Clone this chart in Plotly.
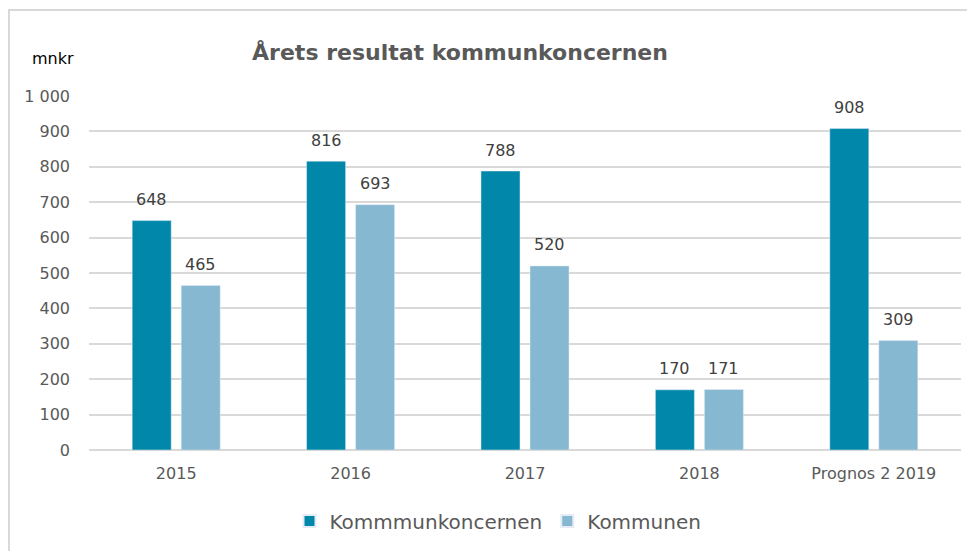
import plotly.graph_objects as go

categories = ["2015", "2016", "2017", "2018", "Prognos 2 2019"]
koncern = [648, 816, 788, 170, 908]
kommunen = [465, 693, 520, 171, 309]
tick_vals = [0, 100, 200, 300, 400, 500, 600, 700, 800, 900, 1000]
tick_text = ["0", "100", "200", "300", "400", "500", "600", "700", "800", "900", "1 000"]

OFF = 8  # page body margin
PW, PH = 975, 551
W, H = PW - OFF, PH - OFF
L, R, T, B = 89 - OFF, 14, 96 - OFF, 101
FONT = "DejaVu Sans"
C1, C2 = "#0087A9", "#87B8D1"
TXT = "#595959"

fig = go.Figure()
fig.add_bar(x=categories, y=koncern, name="Kommmunkoncernen", marker_color=C1)
fig.add_bar(x=categories, y=kommunen, name="Kommunen", marker_color=C2)

pw = PW - 89 - R
ph = PH - 96 - B
def px(xp):
    return (xp - 89) / pw
def py(yp):
    return (PH - B - yp) / ph
def cx(xp):
    return (xp - OFF) / W
def cy(yp):
    return 1 - (yp - OFF) / H

annots = []
slot = 49
for vals, sh in ((koncern, -slot / 2), (kommunen, slot / 2)):
    for i, v in enumerate(vals):
        annots.append(dict(x=i, y=v, text=str(v), showarrow=False, xref="x", yref="y",
                           xshift=sh, yshift=21, yanchor="middle", xanchor="center",
                           font=dict(size=16, color="#404040", family=FONT)))
annots.append(dict(text="mnkr", x=px(53), y=py(58), xref="paper", yref="paper",
                   showarrow=False, font=dict(size=16, color="#000000", family=FONT),
                   xanchor="center", yanchor="middle"))

fig.update_layout(
    width=W, height=H,
    margin=dict(l=L, r=R, t=T, b=B),
    paper_bgcolor="white", plot_bgcolor="white",
    barmode="group", bargap=0.438, bargroupgap=0.204,
    font=dict(family=FONT, color=TXT, size=15),
    title=dict(text="<b>Årets resultat kommunkoncernen</b>", x=cx(460), xanchor="center",
               y=cy(52), yanchor="middle", xref="container", yref="container",
               font=dict(size=22, color=TXT, family=FONT)),
    showlegend=True,
    legend=dict(orientation="h", xref="container", yref="container",
                x=cx(498), xanchor="center", y=cy(521), yanchor="middle",
                font=dict(size=20, color=TXT, family=FONT),
                itemsizing="constant", traceorder="normal"),
    xaxis=dict(type="category", categoryorder="array", categoryarray=categories,
               range=[-0.5, len(categories) - 0.5],
               showgrid=False, showline=False, ticks="", zeroline=False,
               ticklabelstandoff=12,
               tickfont=dict(size=16, color=TXT)),
    yaxis=dict(range=[0, 1000], tickvals=tick_vals, ticktext=tick_text,
               showgrid=True, gridcolor="#D9D9D9", gridwidth=1.5,
               zeroline=True, zerolinecolor="#D9D9D9", zerolinewidth=1.5,
               showline=False, ticks="", ticklabelstandoff=18,
               tickfont=dict(size=16, color=TXT)),
    annotations=annots,
)

fig.add_shape(type="line", xref="paper", yref="paper",
              x0=px(8), x1=px(PW + 20), y0=py(10), y1=py(10),
              line=dict(color="#D9D9D9", width=2), layer="below")
fig.add_shape(type="line", xref="paper", yref="paper",
              x0=px(9), x1=px(9), y0=py(10), y1=py(PH + 20),
              line=dict(color="#D9D9D9", width=2), layer="below")

fig.write_html("out.html")
